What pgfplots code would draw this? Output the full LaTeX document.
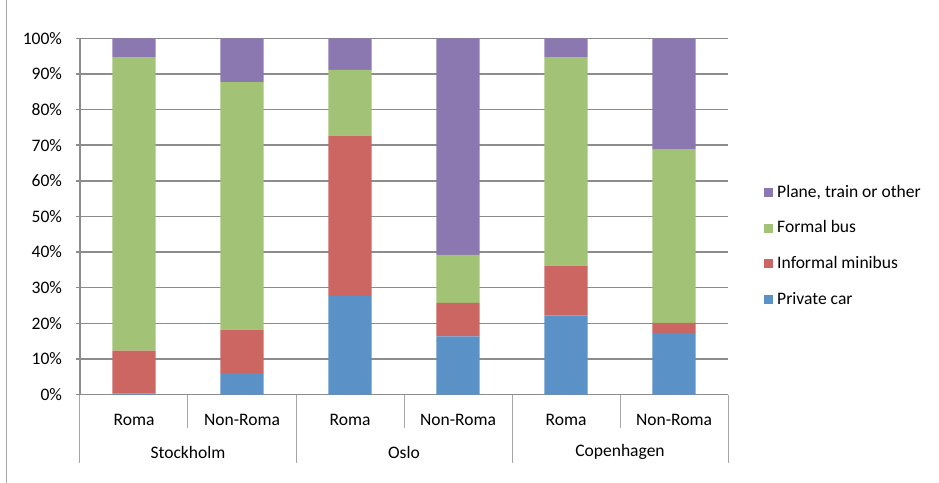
\documentclass[border=0pt]{standalone}
\usepackage{fontspec}
\setmainfont{Carlito}
\usepackage{pgfplots}
\pgfplotsset{compat=1.18}
\definecolor{cCar}{HTML}{5A92C8}
\definecolor{cMini}{HTML}{CB6662}
\definecolor{cBus}{HTML}{A2C375}
\definecolor{cPlane}{HTML}{8B78B1}
\definecolor{gridgray}{HTML}{8C8C8C}
\definecolor{sepgray}{HTML}{A6A6A6}
\begin{document}
\fontsize{17.6}{20}\selectfont
\begin{tikzpicture}
\useasboundingbox (-80bp,-88.5bp) rectangle (859bp,394.5bp);
\draw[sepgray, line width=1bp] (-73bp,-88.5bp) -- (-73bp,394.5bp);
\begin{axis}[
  at={(0,0)}, anchor=south west,
  scale only axis, width=648bp, height=356.2bp,
  ybar stacked, bar width=0.4,
  xmin=-0.5, xmax=5.5, ymin=0, ymax=100,
  clip=false,
  xtick={0,1,2,3,4,5},
  xticklabels={Roma,Non-Roma,Roma,Non-Roma,Roma,Non-Roma},
  xtick style={draw=none},
  xticklabel style={anchor=center, yshift=-21.5bp, inner sep=0pt},
  ytick={0,10,...,100},
  yticklabel={\pgfmathprintnumber{\tick}\%},
  /pgf/number format/assume math mode=true,
  ticklabel style={font=\fontsize{17.6}{20}\selectfont},
  yticklabel style={xshift=-8bp},
  ymajorgrids,
  grid style={color=gridgray, line width=1.5bp},
  axis x line*=bottom, axis y line*=left,
  axis line style={color=gridgray, line width=1.5bp},
  ytick style={color=gridgray, line width=1.5bp},
  tick align=outside, major tick length=4bp,
  reverse legend,
  legend cell align=left,
  legend style={at={(1.051,0.417)}, anchor=west, draw=none, fill=none,
    font=\fontsize{17.6}{20}\selectfont, row sep=19bp,
    nodes={inner xsep=4bp, inner ysep=1bp}},
  legend image code/.code={\fill[#1,draw=none] (0bp,-4.5bp) rectangle (9bp,4.5bp);},
]
\addplot[fill=cCar, draw=none] coordinates {(0,0.3) (1,6.0) (2,27.7) (3,16.3) (4,22.2) (5,17.3)};
\addlegendentry{Private car}
\addplot[fill=cMini, draw=none] coordinates {(0,12.0) (1,12.2) (2,45.0) (3,9.4) (4,14.0) (5,2.8)};
\addlegendentry{Informal minibus}
\addplot[fill=cBus, draw=none] coordinates {(0,82.4) (1,69.5) (2,18.4) (3,13.5) (4,58.5) (5,48.8)};
\addlegendentry{Formal bus}
\addplot[fill=cPlane, draw=none] coordinates {(0,5.3) (1,12.3) (2,8.9) (3,60.8) (4,5.3) (5,31.1)};
\addlegendentry{Plane, train or other}
% category separators
\draw[sepgray, line width=1bp] (axis cs:0.5,0) -- ([yshift=-33.5bp]axis cs:0.5,0);
\draw[sepgray, line width=1bp] (axis cs:2.5,0) -- ([yshift=-33.5bp]axis cs:2.5,0);
\draw[sepgray, line width=1bp] (axis cs:4.5,0) -- ([yshift=-33.5bp]axis cs:4.5,0);
\draw[sepgray, line width=1bp] (axis cs:-0.5,0) -- ([yshift=-68.5bp]axis cs:-0.5,0);
\draw[sepgray, line width=1bp] (axis cs:1.5,0) -- ([yshift=-68.5bp]axis cs:1.5,0);
\draw[sepgray, line width=1bp] (axis cs:3.5,0) -- ([yshift=-68.5bp]axis cs:3.5,0);
\draw[sepgray, line width=1bp] (axis cs:5.5,0) -- ([yshift=-68.5bp]axis cs:5.5,0);
\node[anchor=center, inner sep=0pt] at ([yshift=-57.5bp]axis cs:0.5,0) {Stockholm};
\node[anchor=center, inner sep=0pt] at ([yshift=-57.5bp]axis cs:2.5,0) {Oslo};
\node[anchor=center, inner sep=0pt] at ([yshift=-57.5bp]axis cs:4.5,0) {Copenhagen};
\end{axis}
\end{tikzpicture}
\end{document}
